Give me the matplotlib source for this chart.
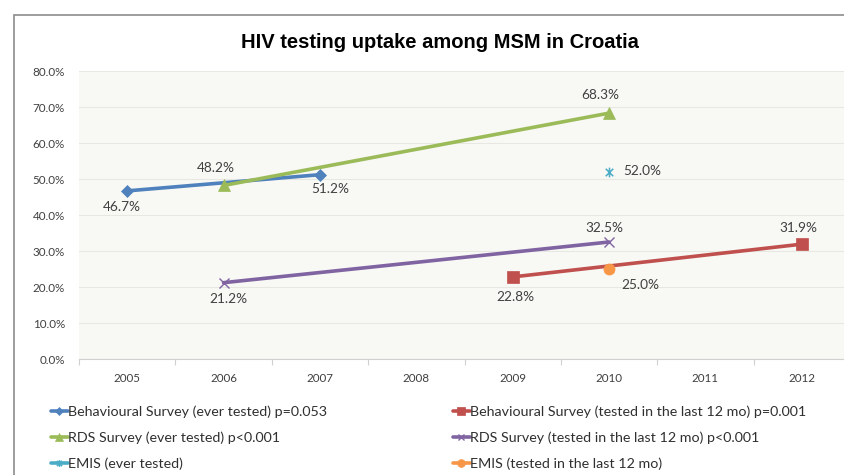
import matplotlib
matplotlib.use("Agg")
import matplotlib.pyplot as plt
from matplotlib.path import Path
from matplotlib.patches import Rectangle
from matplotlib.ticker import FuncFormatter, FixedLocator

# ---- data ----
years = ['2005', '2006', '2007', '2008', '2009', '2010', '2011', '2012']

beh_ever_years = ['2005', '2007']
beh_ever_vals = [46.7, 51.2]
rds_ever_years = ['2006', '2010']
rds_ever_vals = [48.2, 68.3]
emis_ever_years = ['2010']
emis_ever_vals = [52.0]
beh_12_years = ['2009', '2012']
beh_12_vals = [22.8, 31.9]
rds_12_years = ['2006', '2010']
rds_12_vals = [21.2, 32.5]
emis_12_years = ['2010']
emis_12_vals = [25.0]

labels = [
    'Behavioural Survey (ever tested) p=0.053',
    'RDS Survey (ever tested) p<0.001',
    'EMIS (ever tested)',
    'Behavioural Survey (tested in the last 12 mo) p=0.001',
    'RDS Survey (tested in the last 12 mo) p<0.001',
    'EMIS (tested in the last 12 mo)',
]
title = 'HIV testing uptake among MSM in Croatia'

# ---- style ----
W, H = 844, 475
fig = plt.figure(figsize=(W / 100, H / 100), dpi=100)
fig.patch.set_facecolor('white')

font = 'Lato'
txt_col = '#404040'

ax = fig.add_axes([79 / W, 1 - 359 / H, 771 / W, 288 / H])
ax.set_facecolor('#f8f8f5')

star = Path([(-1, -1), (1, 1), (-1, 1), (1, -1), (0, -1.3), (0, 1.3)],
            [Path.MOVETO, Path.LINETO, Path.MOVETO, Path.LINETO, Path.MOVETO, Path.LINETO])

series = [
    (beh_ever_years, beh_ever_vals, '#4F81BD', 'D', 6, 0.5),
    (rds_ever_years, rds_ever_vals, '#9BBB59', '^', 8, 0.5),
    (emis_ever_years, emis_ever_vals, '#4BACC6', star, 7, 1.1),
    (beh_12_years, beh_12_vals, '#C0504D', 's', 8, 0.5),
    (rds_12_years, rds_12_vals, '#8064A2', 'x', 6.5, 1.0),
    (emis_12_years, emis_12_vals, '#F79646', 'o', 8, 0.5),
]

handles = []
for (yrs, vals, col, mk, ms, mew), lab in zip(series, labels):
    xs = [years.index(y) for y in yrs]
    ln, = ax.plot(xs, vals, color=col, lw=2.6, marker=mk, markersize=ms,
                  markeredgewidth=mew, markeredgecolor=col, markerfacecolor=col,
                  label=lab, solid_capstyle='round', zorder=3)
    handles.append(ln)

# data label offsets in pixels (dx, dy) per series, per point
offsets = [
    [(-5, -16), (10, -14)],
    [(-8, 17), (-9, 18)],
    [(33, 1)],
    [(3, -20), (-3, 16)],
    [(5, -16), (-5, 14)],
    [(31, -16)],
]
for (yrs, vals, col, mk, ms, mew), offs in zip(series, offsets):
    for y, v, (dx, dy) in zip(yrs, vals, offs):
        ax.annotate(f'{v:.1f}%', (years.index(y), v), xytext=(dx, dy),
                    textcoords='offset pixels', ha='center', va='center',
                    fontsize=9.8, family=font, color=txt_col, zorder=4)

ax.set_xlim(-0.5, len(years) - 0.5)
ax.set_ylim(0, 80)
ax.set_yticks(range(0, 81, 10))
ax.yaxis.set_major_formatter(FuncFormatter(lambda v, p: f'{v:.1f}%'))
ax.set_xticks(range(len(years)))
ax.set_xticklabels(years)
ax.xaxis.set_minor_locator(FixedLocator([i - 0.5 for i in range(len(years) + 1)]))
ax.tick_params(axis='x', which='major', length=0, pad=10)
ax.tick_params(axis='x', which='minor', length=4, color='#d0d0d0', width=0.8)
ax.tick_params(axis='y', length=0, pad=10)
for lab in ax.get_xticklabels() + ax.get_yticklabels():
    lab.set_family(font)
    lab.set_fontsize(8.4)
    lab.set_color(txt_col)
ax.grid(axis='y', color='#e8e8e2', lw=0.8, zorder=0)
ax.set_axisbelow(True)
for s in ('top', 'right', 'left'):
    ax.spines[s].set_visible(False)
ax.spines['bottom'].set_color('#d0d0d0')
ax.spines['bottom'].set_linewidth(0.8)

fig.text(440 / W, 1 - 42 / H, title, ha='center', va='center',
         fontsize=14.5, fontweight='bold', family='Liberation Sans', color='#000000')

# outer chart frame (left and top visible)
fig.patches.append(Rectangle((14 / W, -0.2), 1.2, 1.2 - 15 / H, transform=fig.transFigure,
                             fill=False, edgecolor='#8c8c8c', lw=1.2))

leg_kw = dict(loc='upper left', frameon=False, borderpad=0, handlelength=1.15,
              handletextpad=0.05, labelspacing=0.95, markerscale=0.7,
              prop={'family': font, 'size': 10.3})
leg1 = fig.legend(handles[:3], labels[:3], bbox_to_anchor=(44 / W, 1 - 398 / H), **leg_kw)
leg2 = fig.legend(handles[3:], labels[3:], bbox_to_anchor=(446 / W, 1 - 398 / H), **leg_kw)
for lg in (leg1, leg2):
    for t in lg.get_texts():
        t.set_color('#303030')

fig.savefig('out.png', dpi=100)
